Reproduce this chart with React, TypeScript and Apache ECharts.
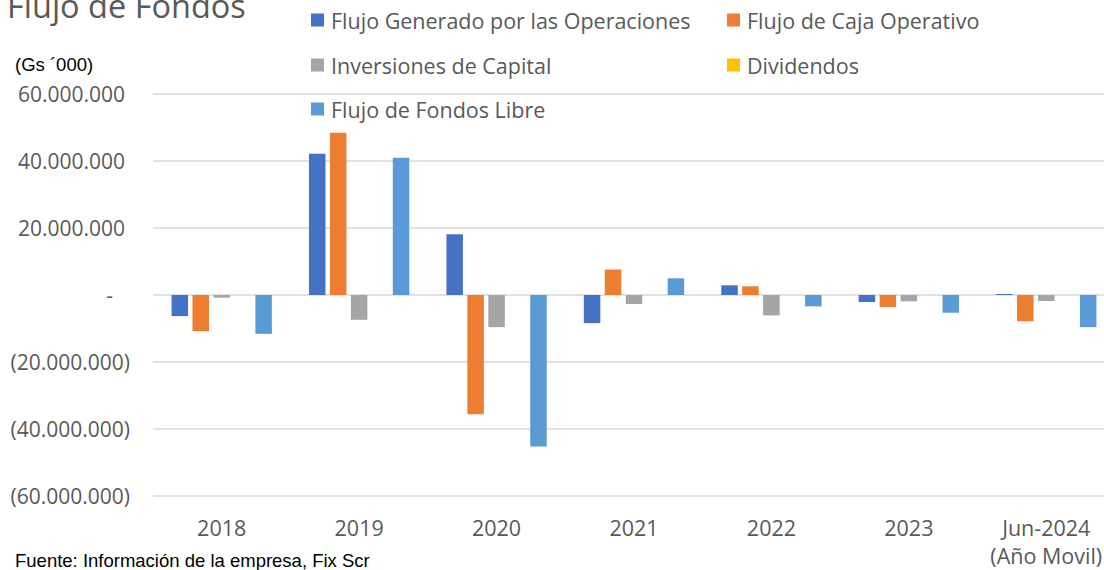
import React, { useEffect, useRef } from "react";
import * as echarts from "echarts";

const categories = ["2018", "2019", "2020", "2021", "2022", "2023", "Jun-2024\n(Año Movil)"];
const flujoGenerado = [-6300000, 42200000, 18100000, -8400000, 2900000, -2100000, 300000];
const flujoCaja = [-10800000, 48400000, -35600000, 7600000, 2600000, -3600000, -7800000];
const inversiones = [-800000, -7400000, -9600000, -2700000, -6100000, -1900000, -1800000];
const dividendos = [0, 0, 0, 0, 0, 0, 0];
const flujoLibre = [-11600000, 41000000, -45200000, 5000000, -3400000, -5300000, -9600000];
const seriesNames = [
  "Flujo Generado por las Operaciones",
  "Flujo de Caja Operativo",
  "Inversiones de Capital",
  "Dividendos",
  "Flujo de Fondos Libre",
];
const colors = ["#4472C4", "#ED7D31", "#A5A5A5", "#FFC000", "#5B9BD5"];

const FONT = "'Open Sans', sans-serif";
const ARIAL = "'Liberation Sans', Arial, sans-serif";
const GREY = "#595959";

function fmt(v: number): string {
  return Math.abs(v)
    .toFixed(0)
    .replace(/\B(?=(\d{3})+(?!\d))/g, ".");
}

export default function App() {
  const ref = useRef<HTMLDivElement>(null);
  useEffect(() => {
    if (!ref.current) return;
    const chart = echarts.init(ref.current, undefined, { renderer: "svg" });
    const seriesData = [flujoGenerado, flujoCaja, inversiones, dividendos, flujoLibre];
    const legendPos = [
      { left: 311, top: 9 },
      { left: 727, top: 9 },
      { left: 311, top: 54 },
      { left: 727, top: 54 },
      { left: 311, top: 98 },
    ];
    chart.setOption({
      animation: false,
      grid: { left: 153, top: 94, width: 962, bottom: 74, containLabel: false },
      legend: seriesNames.map((n, i) => ({
        data: [n],
        left: legendPos[i].left,
        top: legendPos[i].top,
        padding: 0,
        itemWidth: 13,
        itemHeight: 13,
        itemGap: 0,
        icon: "rect",
        selectedMode: false,
        textStyle: { fontFamily: FONT, fontSize: 21.5, color: GREY, padding: [0, 0, 0, 2] },
      })),
      xAxis: {
        type: "category",
        data: categories,
        axisLine: { show: false },
        axisTick: { show: false },
        axisLabel: {
          fontFamily: FONT,
          fontSize: 21.5,
          color: GREY,
          margin: 17,
          lineHeight: 28,
          interval: 0,
        },
      },
      yAxis: {
        type: "value",
        min: -60000000,
        max: 60000000,
        interval: 20000000,
        axisLine: { show: false },
        axisTick: { show: false },
        splitLine: { lineStyle: { color: "#D9D9D9", width: 1.5 } },
        axisLabel: {
          fontFamily: FONT,
          fontSize: 21,
          color: GREY,
          margin: 23,
          formatter: (v: number) => {
            if (v === 0) return "{z|-}";
            if (v < 0) return "(" + fmt(v) + ")";
            return "{p|" + fmt(v) + "}";
          },
          rich: {
            z: { fontFamily: FONT, fontSize: 21, color: GREY, padding: [0, 17, 0, 0] },
            p: { fontFamily: FONT, fontSize: 21, color: GREY, padding: [0, 5, 0, 0] },
          },
        },
      },
      series: seriesNames.map((n, i) => ({
        name: n,
        type: "bar",
        data: seriesData[i],
        barGap: "27%",
        barCategoryGap: "27%",
        itemStyle: { color: colors[i] },
      })),
      graphic: [
        {
          type: "text",
          left: 7,
          top: -11,
          style: { text: "Flujo de Fondos", fontFamily: FONT, fontSize: 32.5, fill: GREY },
        },
        {
          type: "text",
          left: 15,
          top: 55,
          style: { text: "(Gs ´000)", fontFamily: ARIAL, fontSize: 18.5, fill: "#000" },
        },
        {
          type: "text",
          x: 15,
          y: 560,
          style: {
            text: "Fuente: Información de la empresa, Fix Scr",
            fontFamily: ARIAL,
            fontSize: 18.5,
            fill: "#000",
            verticalAlign: "middle",
            lineHeight: 18,
          },
        },
      ],
    });
    return () => chart.dispose();
  }, []);
  return (
    <div
      style={{
        position: "absolute",
        left: 0,
        top: 0,
        width: 1104,
        height: 570,
        overflow: "hidden",
      }}
    >
      <div
        ref={ref}
        style={{ position: "absolute", left: 0, top: 0, width: 1116, height: 570 }}
      />
    </div>
  );
}
